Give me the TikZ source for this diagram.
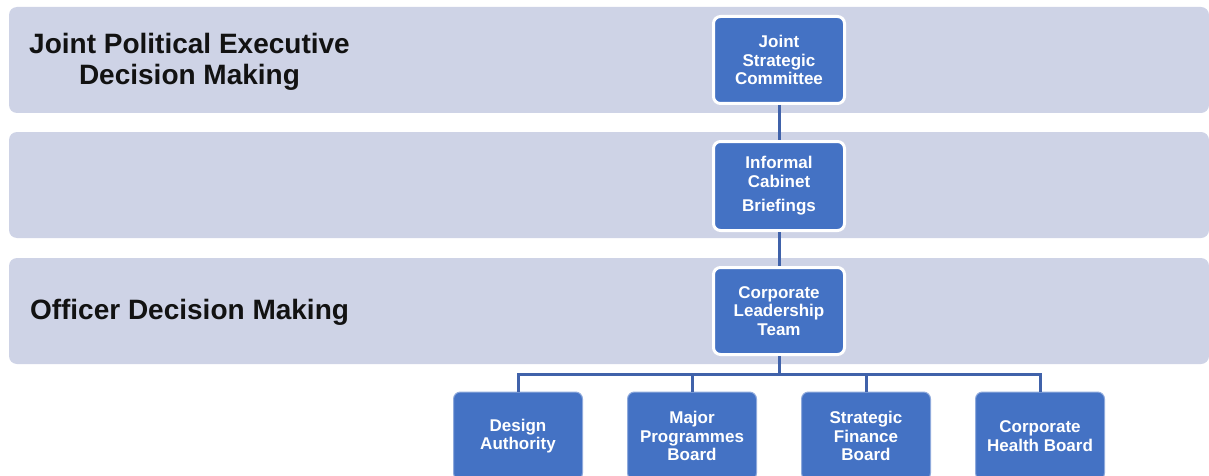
\documentclass[tikz,border=0pt]{standalone}
\usepackage{fontspec}
\setmainfont{Liberation Sans}
\begin{document}
\definecolor{bandc}{RGB}{206,211,230}
\definecolor{boxc}{RGB}{68,114,196}
\definecolor{linec}{RGB}{64,98,170}
\begin{tikzpicture}[x=1pt,y=-1pt,
  band/.style={fill=bandc, rounded corners=8pt},
  orgbox/.style={fill=boxc, draw=white, line width=3pt, rounded corners=7pt,
    minimum width=131pt, align=center, text=white, inner sep=1pt,
    font=\fontsize{17}{18.5}\selectfont\bfseries},
  lowbox/.style={orgbox, line width=1pt, draw=boxc!60!white, minimum width=129pt, minimum height=88pt},
  lbl/.style={align=center, font=\fontsize{28}{31}\selectfont\bfseries, text=black!93},
  conn/.style={draw=linec, line width=3pt}]
\useasboundingbox (0,0) rectangle (1209,476);
\clip (0,0) rectangle (1209,476);
\fill[band] (9,7) rectangle (1209,113);
\fill[band] (9,132) rectangle (1209,238);
\fill[band] (9,258) rectangle (1209,364);
\node[lbl] (l1) at (189.5,62) {Joint Political Executive\\Decision Making};
\node[lbl] (l2) at (189.5,312) {Officer Decision Making};
\node[orgbox, minimum height=87pt] (jsc) at (779,60) {Joint\\Strategic\\Committee};
\node[orgbox, minimum height=89pt] (icb) at (779,186) {Informal\\Cabinet\\[6pt]Briefings};
\node[orgbox, minimum height=87pt] (clt) at (779,311) {Corporate\\Leadership\\Team};
\node[lowbox] (da) at (518,436) {Design\\Authority};
\node[lowbox] (mpb) at (692,436) {Major\\Programmes\\Board};
\node[lowbox] (sfb) at (866,436) {Strategic\\Finance\\Board};
\node[lowbox] (chb) at (1040,436) {Corporate\\Health Board};
\coordinate (bus) at (779,374);
\draw[conn] (jsc.south) -- (icb.north);
\draw[conn] (icb.south) -- (clt.north);
\draw[conn] (clt.south) -- (bus);
\draw[conn] (bus) -| (da.north);
\draw[conn] (bus) -| (mpb.north);
\draw[conn] (bus) -| (sfb.north);
\draw[conn] (bus) -| (chb.north);
\end{tikzpicture}
\end{document}
